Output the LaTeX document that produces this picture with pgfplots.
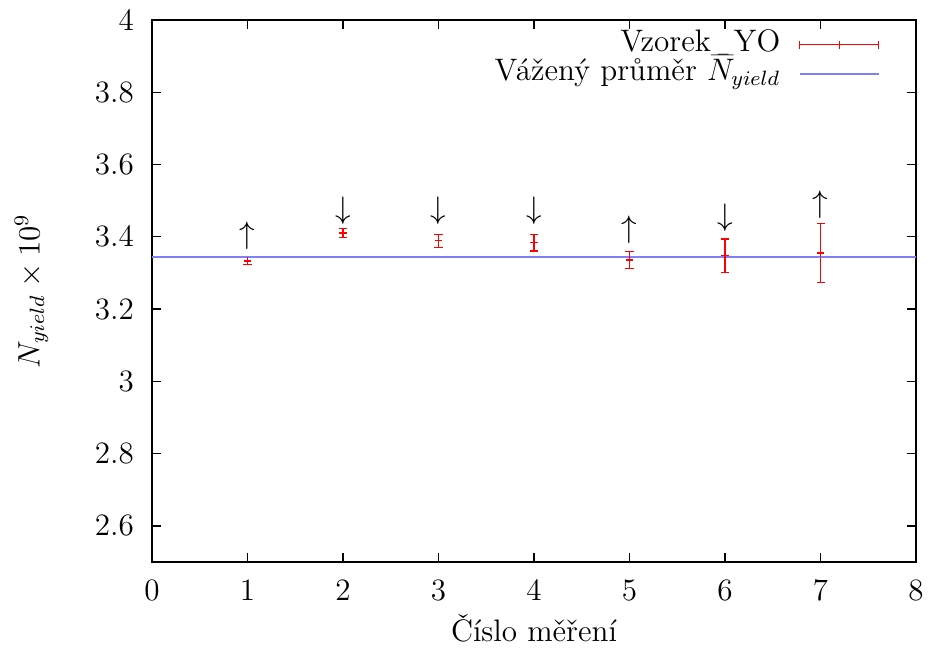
\documentclass[12pt,border=0pt]{standalone}
\usepackage{pgfplots}
\pgfplotsset{compat=1.18}
\definecolor{meanblue}{RGB}{128,128,255}

% measured yields and their uncertainties
\pgfplotstableread{
x y e
1 3.333 0.009
2 3.411 0.013
3 3.389 0.018
4 3.384 0.023
5 3.336 0.0235
6 3.348 0.046
7 3.355 0.082
}\yields

\begin{document}
\begin{tikzpicture}
\path[use as bounding box] (-58.65pt,-36.65pt) rectangle (301.35pt,216.85pt);
\begin{axis}[
  at={(0,0)}, anchor=south west,
  scale only axis, width=294.8pt, height=209.1pt,
  xmin=0, xmax=8, ymin=2.5, ymax=4,
  xtick={0,1,...,8}, ytick={2.6,2.8,3,3.2,3.4,3.6,3.8,4},
  tick align=inside, major tick length=3.3pt,
  axis line style={line width=0.5pt},
  tick style={black, line width=0.5pt},
  xticklabel style={anchor=base, yshift=-14.7pt, inner sep=0pt},
  yticklabel style={anchor=east, xshift=-6.8pt, inner sep=0pt},
  xlabel={Číslo měření},
  xlabel style={at={(axis description cs:0.5,-0.1471)}, anchor=base, inner sep=0pt},
  ylabel={$N_{yield}\times 10^9$},
  ylabel style={at={(axis description cs:-0.1472,0.5)}, anchor=base, inner sep=0pt},
  legend plot pos=right,
  legend cell align=right,
  legend style={at={(axis description cs:0.9535,0.9817)}, anchor=north east,
    draw=none, fill=none, inner sep=0pt, column sep=7.2pt, row sep=0pt,
    nodes={inner sep=0pt, text height=8.2pt, text depth=2.9pt}},
]
\addplot[red, line width=0.5pt, only marks, mark=+, mark size=1.5pt,
  legend image code/.code={
    \draw[red, line width=0.4pt] (0pt,0pt) -- (30.5pt,0pt);
    \draw[red, line width=0.4pt] (0pt,-1.45pt) -- (0pt,1.45pt);
    \draw[red, line width=0.4pt] (15.25pt,-1.45pt) -- (15.25pt,1.45pt);
    \draw[red, line width=0.4pt] (30.5pt,-1.45pt) -- (30.5pt,1.45pt);},
  error bars/.cd, y dir=both, y explicit,
  error bar style={red, line width=0.5pt},
  error mark options={rotate=90, mark size=1.55pt, red, line width=0.5pt},
  ] table[x=x, y=y, y error=e] {\yields};
\addlegendentry{Vzorek\_YO}
\addplot[meanblue, line width=0.8pt, mark=none,
  legend image code/.code={\draw[meanblue, line width=0.8pt] (0pt,0pt) -- (30.5pt,0pt);}]
  coordinates {(0,3.345) (8,3.345)};
\addlegendentry{Vážený průměr $\bar{N}_{yield}$}
% direction markers above the points
\addplot[forget plot, only marks, mark=text, text mark={$\uparrow$}, text mark as node=true, black]
  coordinates {(1,3.403) (5,3.421) (7,3.489)};
\addplot[forget plot, only marks, mark=text, text mark={$\downarrow$}, text mark as node=true, black]
  coordinates {(2,3.472) (3,3.472) (4,3.472) (6,3.453)};
\end{axis}
\end{tikzpicture}
\end{document}
